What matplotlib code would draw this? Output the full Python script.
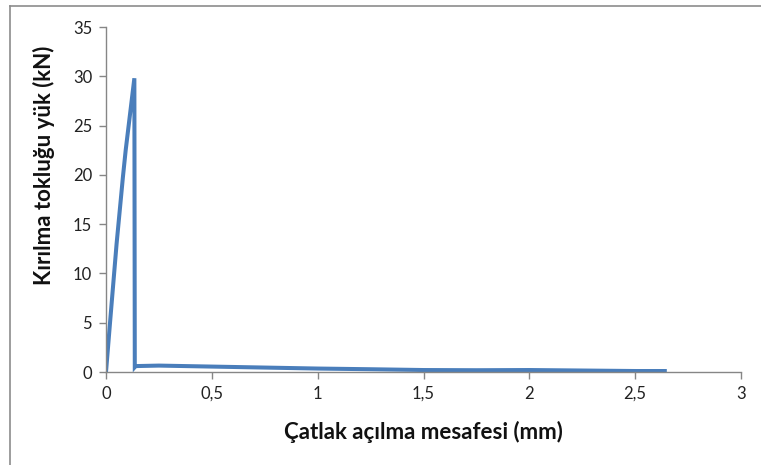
import matplotlib.pyplot as plt
from matplotlib.lines import Line2D

# yük - açılma eğrisi (mm, kN)
acilma = [0.0, 0.019, 0.05, 0.08, 0.093, 0.134, 0.136, 0.14, 0.25, 0.5, 0.75, 1.0, 1.25, 1.5, 1.75, 2.0, 2.25, 2.5, 2.64]
yuk = [0.0, 5.0, 13.0, 19.8, 22.5, 29.8, 0.5, 0.6, 0.65, 0.55, 0.45, 0.35, 0.28, 0.2, 0.18, 0.2, 0.15, 0.1, 0.1]

x_ticks = [0, 0.5, 1, 1.5, 2, 2.5, 3]
x_tick_labels = ['0', '0,5', '1', '1,5', '2', '2,5', '3']
y_ticks = [0, 5, 10, 15, 20, 25, 30, 35]

plt.rcParams['font.family'] = ['Lato', 'DejaVu Sans']

fig = plt.figure(figsize=(7.61, 4.65), dpi=100)
ax = fig.add_axes([106 / 761, 1 - 372 / 465, 635 / 761, 345 / 465])

ax.plot(acilma, yuk, color='#4a7ebb', linewidth=2.9, solid_joinstyle='miter')

ax.set_xlim(0, 3)
ax.set_ylim(0, 35)
ax.set_xticks(x_ticks)
ax.set_xticklabels(x_tick_labels)
ax.set_yticks(y_ticks)

for side in ['top', 'right']:
    ax.spines[side].set_visible(False)
for side in ['left', 'bottom']:
    ax.spines[side].set_color('#868686')
    ax.spines[side].set_linewidth(1.0)
ax.tick_params(direction='out', length=5, color='#868686', width=1.0,
               labelsize=12, labelcolor='#222222', pad=5)

ax.set_xlabel('Çatlak açılma mesafesi (mm)', fontsize=16, fontweight='bold',
              color='#111111')
ax.set_ylabel('Kırılma tokluğu yük (kN)', fontsize=16, fontweight='bold',
              color='#111111')
ax.xaxis.set_label_coords(0.5, -60 / 345)
ax.yaxis.set_label_coords(-62 / 635, 207 / 345)
ax.xaxis.label.set_va('center')
ax.yaxis.label.set_va('center')

# çerçeve kenarları
fig.add_artist(Line2D([10 / 761, 1], [1 - 6 / 465, 1 - 6 / 465], color='#8c8c8c', linewidth=1.2,
                      transform=fig.transFigure))
fig.add_artist(Line2D([10 / 761, 10 / 761], [0, 1 - 6 / 465], color='#8c8c8c', linewidth=1.2,
                      transform=fig.transFigure))

fig.savefig('out.png', dpi=100)
